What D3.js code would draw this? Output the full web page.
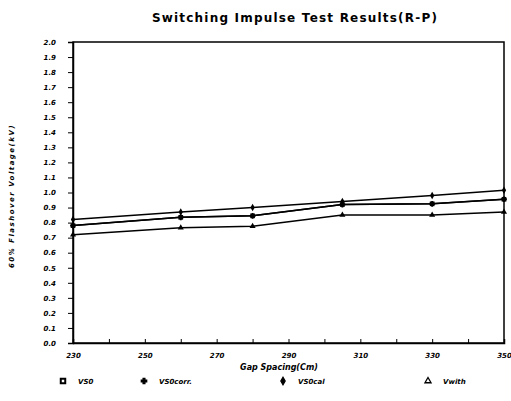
<!DOCTYPE html>
<html>
<head>
<meta charset="utf-8">
<script src="https://cdn.jsdelivr.net/npm/d3@7/dist/d3.min.js"></script>
<style>
  body { margin: 0; background: #fff; }
  text { font-family: "DejaVu Sans", sans-serif; font-weight: bold; font-style: italic; fill: #000; }
</style>
</head>
<body>
<div id="chart"></div>
<script>
var width = 511;
var height = 401;
var margin = {top: 42, right: 7, bottom: 58, left: 73};

// gap spacing (cm)
var gaps = [230, 260, 280, 305, 330, 350];
// 50% flashover voltage (kV)
var vs0 = [0.78, 0.835, 0.845, 0.92, 0.925, 0.955];
var vs0corr = [0.78, 0.835, 0.845, 0.92, 0.925, 0.955];
var vs0cal = [0.82, 0.87, 0.90, 0.94, 0.98, 1.015];
var vwith = [0.72, 0.765, 0.775, 0.85, 0.85, 0.87];
var seriesNames = ['VS0', 'VS0corr.', 'VS0cal', 'Vwith'];
var yTicks = d3.range(0, 21).map(function(i){ return i / 10; });
var xTicks = d3.range(230, 351, 10);

var svg = d3.select('#chart')
  .append('svg')
  .attr('width', width)
  .attr('height', height);

var w = width - margin.left - margin.right;
var h = height - margin.top - margin.bottom;

var xScale = d3.scaleLinear().domain([230, 350]).range([0, w]);
var yScale = d3.scaleLinear().domain([0, 2]).range([h, 0]);

var g = svg.append('g')
  .attr('transform', 'translate(' + margin.left + ',' + margin.top + ')');

// title
svg.append('text')
  .text('Switching Impulse Test Results(R-P)')
  .attr('x', 295)
  .attr('y', 22)
  .attr('text-anchor', 'middle')
  .style('font-size', '12px')
  .style('font-style', 'normal')
  .style('letter-spacing', '1.2px');

// frame
g.append('rect')
  .attr('width', w)
  .attr('height', h)
  .attr('fill', 'none')
  .attr('stroke', '#000')
  .attr('stroke-width', 1.5);

// y axis
var yAxis = d3.axisLeft(yScale)
  .tickValues(yTicks)
  .tickSize(5)
  .tickPadding(12)
  .tickFormat(d3.format('.1f'));
var ya = g.append('g').call(yAxis);
ya.select('.domain').attr('stroke-width', 1.5);
ya.selectAll('text').style('font-size', '7px').style('font-weight', '900');

// x axis, small ticks pointing up
var xAxis = d3.axisBottom(xScale)
  .tickValues(xTicks)
  .tickSize(-4)
  .tickPadding(10)
  .tickFormat(function(d){ return (d - 230) % 20 == 0 ? d : ''; });
var xa = g.append('g')
  .attr('transform', 'translate(0,' + h + ')')
  .call(xAxis);
xa.select('.domain').attr('stroke-width', 1.5);
xa.selectAll('text').style('font-size', '7px');

// axis titles
svg.append('text')
  .text('Gap Spacing(Cm)')
  .attr('x', 279)
  .attr('y', 370)
  .attr('text-anchor', 'middle')
  .style('font-size', '8px');
svg.append('text')
  .text('60% Flashover Voltage(kV)')
  .attr('text-anchor', 'middle')
  .attr('transform', 'translate(14,196)rotate(-90)')
  .style('font-size', '7px')
  .style('letter-spacing', '1.5px');

// lines and markers
var allSeries = [vs0, vs0corr, vs0cal, vwith];
var line = d3.line()
  .x(function(d, i){ return xScale(gaps[i]); })
  .y(function(d){ return yScale(d); });

allSeries.forEach(function(values, k){
  g.append('path')
    .datum(values)
    .attr('d', line)
    .attr('fill', 'none')
    .attr('stroke', '#000')
    .attr('stroke-width', 1.5);
});

var shapes = [d3.symbolSquare, d3.symbolCross, d3.symbolDiamond, d3.symbolTriangle];
var sizes = [22, 18, 16, 16];
allSeries.forEach(function(values, k){
  g.append('g')
    .selectAll('path')
    .data(values)
    .enter()
    .append('path')
    .attr('d', d3.symbol().type(shapes[k]).size(sizes[k]))
    .attr('transform', function(d, i){
      return 'translate(' + xScale(gaps[i]) + ',' + yScale(d) + ')';
    })
    .attr('fill', '#000');
});

// legend
var legendX = [63, 144, 283, 428];
var legendSym = [d3.symbolSquare, d3.symbolCross, d3.symbolDiamond, d3.symbolTriangle];
var legend = svg.append('g');
seriesNames.forEach(function(name, k){
  legend.append('path')
    .attr('d', d3.symbol().type(legendSym[k]).size(k == 0 ? 20 : 16))
    .attr('transform', 'translate(' + legendX[k] + ',381)')
    .attr('fill', k == 0 || k == 3 ? 'none' : '#000')
    .attr('stroke', '#000')
    .attr('stroke-width', k == 0 ? 2 : 1.3);
  legend.append('text')
    .text(name)
    .attr('x', legendX[k] + 15)
    .attr('y', 384)
    .style('font-size', '7px');
});
</script>
</body>
</html>
